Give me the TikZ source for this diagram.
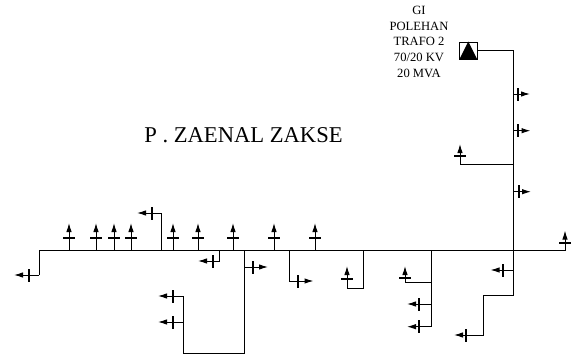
\documentclass[tikz,border=0pt]{standalone}
\usepackage{fontspec}
\setmainfont{Liberation Serif}
\usetikzlibrary{arrows.meta}
\tikzset{
  wire/.style={draw,line width=1pt},
  tip/.style={draw,line width=1pt,-{Latex[length=9pt,width=5.5pt]}},
  tickh/.style={fill=black,inner sep=0pt,minimum width=12.5pt,minimum height=1.8pt},
  tickv/.style={fill=black,inner sep=0pt,minimum width=1.8pt,minimum height=13pt},
  caption/.style={font=\fontsize{12.6}{15.7}\selectfont,align=center,inner sep=0pt}
}
\begin{document}
\begin{tikzpicture}[x=1pt,y=-1pt]
\useasboundingbox (0,0) rectangle (574,356);

\node[caption] (trafotext) at (419,41.8) {GI\\POLEHAN\\TRAFO 2\\70/20 KV\\20 MVA};
\node[font=\fontsize{22.6}{26}\selectfont,inner sep=0pt] (title) at (243.5,135.5) {P . ZAENAL ZAKSE};
\node[draw,line width=0.7pt,minimum size=17.5pt,inner sep=0pt] (trafo) at (468.3,50.7) {};
\fill (trafo.south west) -- (trafo.north) -- (trafo.south east) -- cycle;

% main lines
\coordinate (busl) at (39,250);
\coordinate (busr) at (565,250);
\coordinate (j1) at (513.5,50.7);
\coordinate (j2) at (513.5,295);
\coordinate (j3) at (483,295);
\coordinate (j4) at (483,335);
\coordinate (l1) at (39,275);

% loads going up from the bus
\node[tickh] (u1) at (69,238) {};
\node[tickh] (u2) at (96,238) {};
\node[tickh] (u3) at (114,238) {};
\node[tickh] (u4) at (131,238) {};
\node[tickh] (u5) at (173,238) {};
\node[tickh] (u6) at (198,238) {};
\node[tickh] (u7) at (233,238) {};
\node[tickh] (u8) at (274,238) {};
\node[tickh] (u9) at (315,238) {};
\node[tickh] (u10) at (565,242.7) {};
\coordinate (ue1) at (69,223);
\coordinate (ue2) at (96,223);
\coordinate (ue3) at (114,223);
\coordinate (ue4) at (131,223);
\coordinate (ue5) at (173,223);
\coordinate (ue6) at (198,223);
\coordinate (ue7) at (233,223);
\coordinate (ue8) at (274,223);
\coordinate (ue9) at (315,223);
\coordinate (ue10) at (565,230.5);

% loads on their own branches, going up
\node[tickh] (u11) at (347,278.7) {};
\node[tickh] (u12) at (405,278) {};
\node[tickh] (u13) at (460,155.7) {};
\coordinate (ue11) at (347,266);
\coordinate (ue12) at (405,266);
\coordinate (ue13) at (460,144);
\coordinate (k1) at (363.7,250);
\coordinate (k2) at (363.7,288);
\coordinate (k3) at (347,288);
\coordinate (k4) at (431.7,250);
\coordinate (k5) at (431.7,326.7);
\coordinate (k6) at (405,282.7);
\coordinate (k7) at (431.7,282.7);
\coordinate (k8) at (460,164.7);
\coordinate (k9) at (513.5,164.7);

% loads going left
\node[tickv] (w1) at (29,275) {};
\node[tickv] (w2) at (152,213) {};
\node[tickv] (w3) at (213,261) {};
\node[tickv] (w4) at (173,296) {};
\node[tickv] (w5) at (173,322) {};
\node[tickv] (w6) at (419,304) {};
\node[tickv] (w7) at (419,326.7) {};
\node[tickv] (w8) at (502.7,270) {};
\node[tickv] (w9) at (466,335) {};
\coordinate (we1) at (14,275);
\coordinate (we2) at (137,213);
\coordinate (we3) at (198,261);
\coordinate (we4) at (158,296);
\coordinate (we5) at (158,322);
\coordinate (we6) at (407,304);
\coordinate (we7) at (407,326.7);
\coordinate (we8) at (490.5,270);
\coordinate (we9) at (454,335);
\coordinate (m1) at (161.7,250);
\coordinate (m2) at (161.7,213);
\coordinate (m3) at (219,250);
\coordinate (m4) at (219,261);
\coordinate (m5) at (244.3,250);
\coordinate (m6) at (244.3,353);
\coordinate (m7) at (183,353);
\coordinate (m8) at (183,296);
\coordinate (m9) at (183,322);
\coordinate (m10) at (431.7,304);
\coordinate (m11) at (513.5,270);

% loads going right
\node[tickv] (e1) at (518,94) {};
\node[tickv] (e2) at (518,130.7) {};
\node[tickv] (e3) at (519,191.7) {};
\node[tickv] (e4) at (252.7,267) {};
\node[tickv] (e5) at (298.3,281) {};
\coordinate (ee1) at (530,94);
\coordinate (ee2) at (530.5,130.7);
\coordinate (ee3) at (531,191.7);
\coordinate (ee4) at (268,267);
\coordinate (ee5) at (313.5,281);
\coordinate (n1) at (513.5,94);
\coordinate (n2) at (513.5,130.7);
\coordinate (n3) at (513.5,191.7);
\coordinate (n4) at (244.3,267);
\coordinate (n5) at (289.3,250);
\coordinate (n6) at (289.3,281);

\path[wire] (l1) -- (busl) -- (busr) -- (u10);
\path[wire] (trafo) -- (j1) -- (j2) -- (j3) -- (j4) -- (w9);
\path[wire] (l1) -- (w1);

\path[wire] (u1) -- (u1 |- busl);
\path[wire] (u2) -- (u2 |- busl);
\path[wire] (u3) -- (u3 |- busl);
\path[wire] (u4) -- (u4 |- busl);
\path[wire] (u5) -- (u5 |- busl);
\path[wire] (u6) -- (u6 |- busl);
\path[wire] (u7) -- (u7 |- busl);
\path[wire] (u8) -- (u8 |- busl);
\path[wire] (u9) -- (u9 |- busl);
\path[wire] (k1) -- (k2) -- (k3) -- (u11);
\path[wire] (k4) -- (k5) -- (w7);
\path[wire] (k7) -- (k6) -- (u12);
\path[wire] (k9) -- (k8) -- (u13);

\path[wire] (m1) -- (m2) -- (w2);
\path[wire] (m3) -- (m4) -- (w3);
\path[wire] (m5) -- (m6) -- (m7) -- (m8) -- (w4);
\path[wire] (m9) -- (w5);
\path[wire] (m10) -- (w6);
\path[wire] (m11) -- (w8);

\path[wire] (n1) -- (e1);
\path[wire] (n2) -- (e2);
\path[wire] (n3) -- (e3);
\path[wire] (n4) -- (e4);
\path[wire] (n5) -- (n6) -- (e5);

\path[tip] (u1) -- (ue1);
\path[tip] (u2) -- (ue2);
\path[tip] (u3) -- (ue3);
\path[tip] (u4) -- (ue4);
\path[tip] (u5) -- (ue5);
\path[tip] (u6) -- (ue6);
\path[tip] (u7) -- (ue7);
\path[tip] (u8) -- (ue8);
\path[tip] (u9) -- (ue9);
\path[tip] (u10) -- (ue10);
\path[tip] (u11) -- (ue11);
\path[tip] (u12) -- (ue12);
\path[tip] (u13) -- (ue13);
\path[tip] (w1) -- (we1);
\path[tip] (w2) -- (we2);
\path[tip] (w3) -- (we3);
\path[tip] (w4) -- (we4);
\path[tip] (w5) -- (we5);
\path[tip] (w6) -- (we6);
\path[tip] (w7) -- (we7);
\path[tip] (w8) -- (we8);
\path[tip] (w9) -- (we9);
\path[tip] (e1) -- (ee1);
\path[tip] (e2) -- (ee2);
\path[tip] (e3) -- (ee3);
\path[tip] (e4) -- (ee4);
\path[tip] (e5) -- (ee5);
\end{tikzpicture}
\end{document}
